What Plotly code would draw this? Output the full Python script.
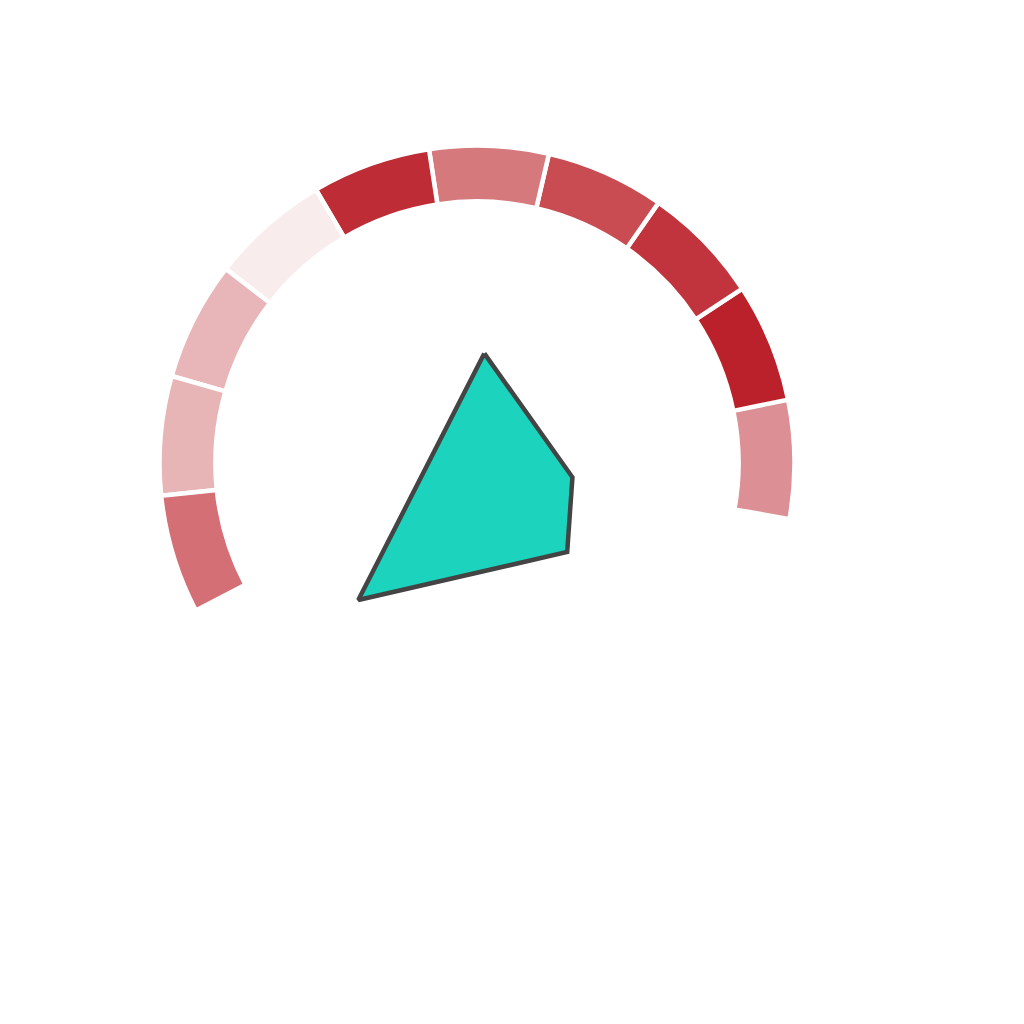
import plotly.graph_objects as go

# arc segments (centre angle in degrees, counter-clockwise from east)
seg_theta = [0.7, 22.4, 44.2, 66.0, 87.8, 109.6, 131.4, 153.2, 175.0, 196.8]
seg_base = [82.4] * 10
seg_len = [17.6] * 10
seg_colors = ['#dc8f94', '#bb212b', '#c1343d', '#c84c52', '#d5797d',
              '#be2c35', '#f9eced', '#e8b5b8', '#e8b5b7', '#d46f76']

# teal polygon
poly_r = [34.6, 30.4, 39.9, 57.1, 34.6]
poly_theta = [86.2, 351.5, 315.4, 229.1, 86.2]

fig = go.Figure()

fig.add_trace(go.Barpolar(
    r=seg_len, base=seg_base, theta=seg_theta, width=21.8,
    marker=dict(color=seg_colors, line=dict(color='white', width=4.5)),
    showlegend=False, hoverinfo='skip'
))

fig.add_trace(go.Scatterpolar(
    r=poly_r, theta=poly_theta, mode='lines', fill='toself',
    fillcolor='#1cd4be', line=dict(color='#444444', width=4.5),
    showlegend=False
))

fig.update_layout(
    width=1024, height=1024,
    margin=dict(l=0, r=0, t=0, b=0),
    paper_bgcolor='white', plot_bgcolor='white',
    polar=dict(
        domain=dict(x=[0.0859, 0.8301], y=[0.1836, 0.9277]),
        bgcolor='white',
        radialaxis=dict(range=[0, 120], visible=False, showgrid=False),
        angularaxis=dict(visible=False, showgrid=False, rotation=0, direction='counterclockwise'),
    ),
)

fig.write_html("out.html")
